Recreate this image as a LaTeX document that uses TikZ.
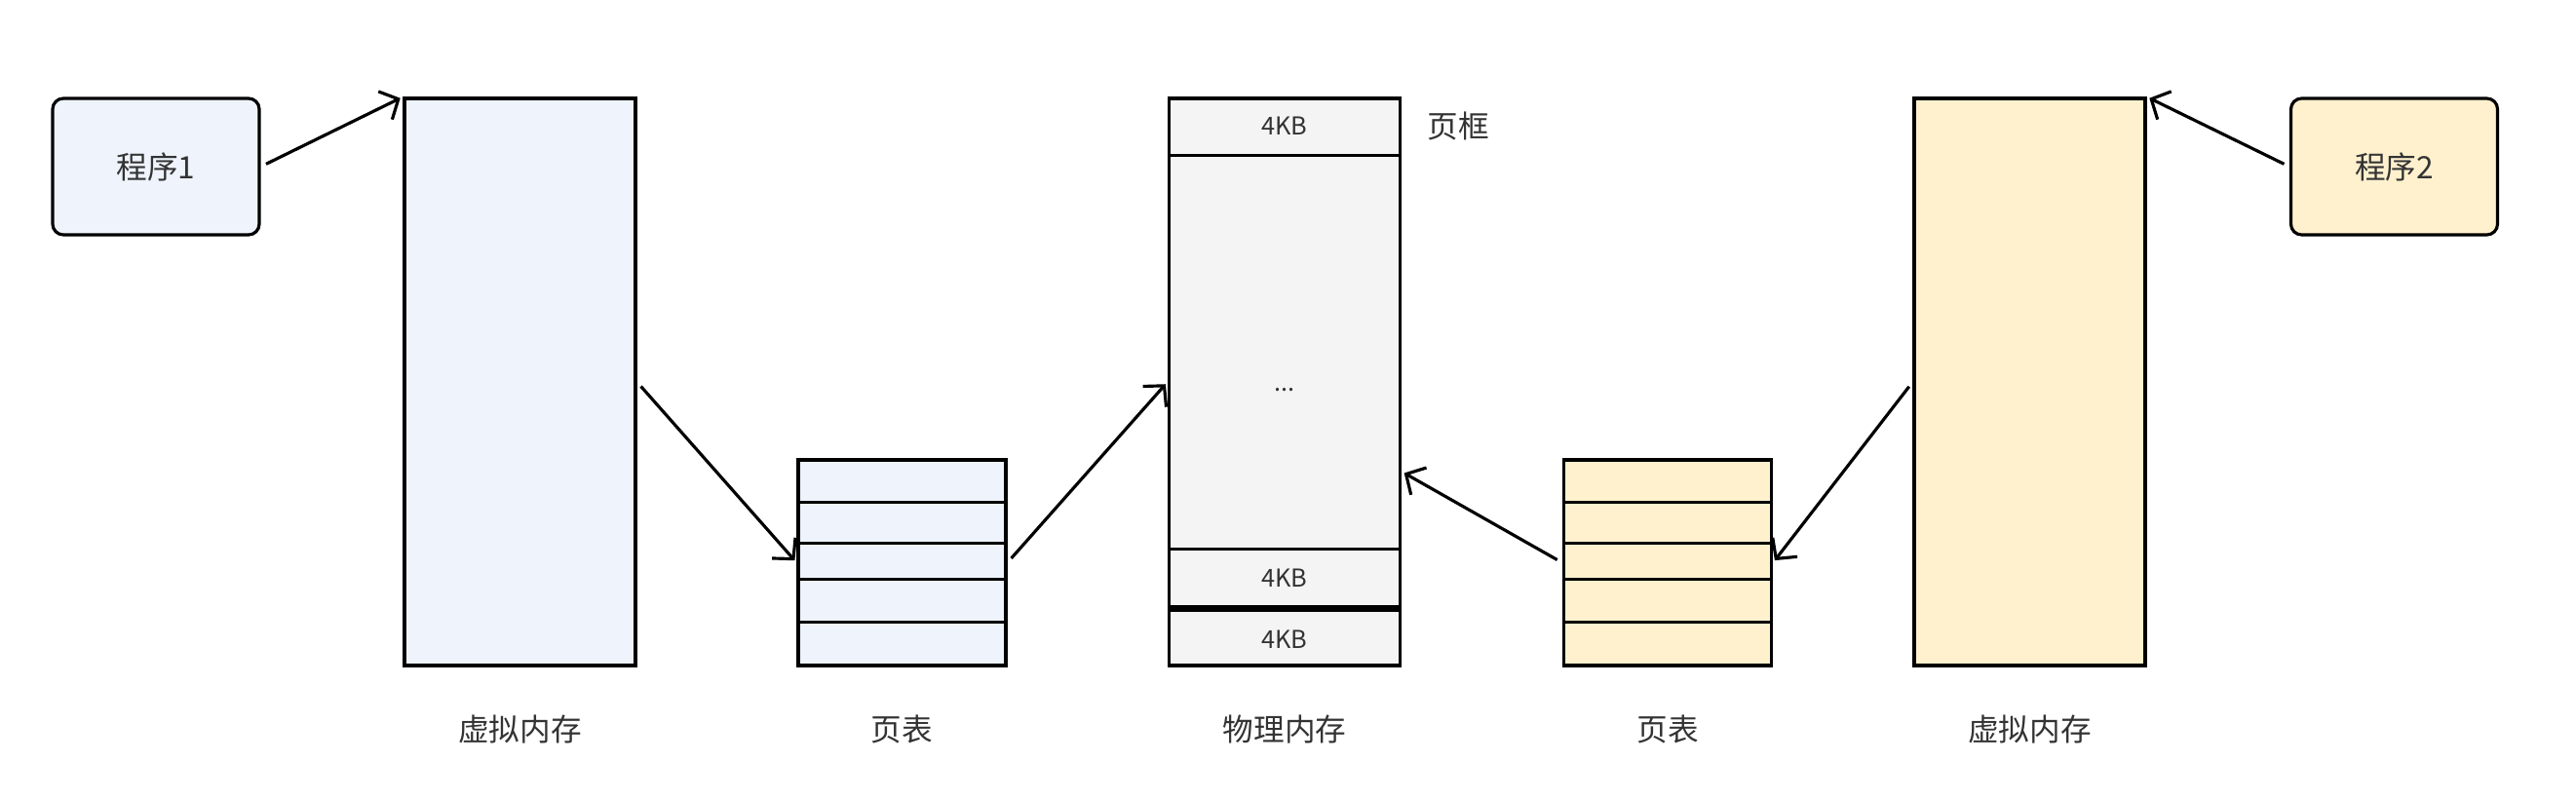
\documentclass[tikz,border=0pt]{standalone}
\usepackage{fontspec}
\setmainfont{Noto Sans CJK SC}
\usetikzlibrary{arrows.meta}

\definecolor{memblue}{HTML}{EEF3FC}
\definecolor{memyellow}{HTML}{FFF1CE}
\definecolor{memgray}{HTML}{F4F4F4}
\definecolor{txtgray}{HTML}{333333}

\begin{document}
\begin{tikzpicture}[
    every node/.style={text=txtgray, font=\fontsize{9}{11}\selectfont},
    prog/.style={draw=black, line width=0.9pt, rounded corners=0.11cm, minimum width=2.12cm, minimum height=1.40cm, inner sep=0pt},
    mem/.style={draw=black, line width=0.9pt, minimum width=2.37cm, minimum height=5.82cm, inner sep=0pt},
    ptab/.style={draw=black, line width=0.9pt, minimum width=2.13cm, minimum height=2.11cm, inner sep=0pt},
    arr/.style={-{Straight Barb[length=1.5mm,width=3.2mm]}, line width=0.9pt, shorten <=0.06cm, shorten >=0.03cm},
    small/.style={font=\fontsize{7.2}{9}\selectfont}
]
    \useasboundingbox (0,0) rectangle (26.43,8.2);

    % --- 左侧: 程序1 ---
    \node[prog, fill=memblue] (prog1) at (1.60,6.49) {程序1};
    \node[mem, fill=memblue] (vm1) at (5.335,4.28) {};
    \node[ptab, fill=memblue] (pt1) at (9.255,2.425) {};
    \foreach \d in {0.46,0.90,1.27,1.69}
        \draw[line width=0.9pt] ([yshift=\d cm]pt1.south west) -- ([yshift=\d cm]pt1.south east);

    % --- 中间: 物理内存 ---
    \node[mem, fill=memgray] (phys) at (13.18,4.28) {};
    \draw[line width=0.9pt] ([yshift=-0.60cm]phys.north west) -- ([yshift=-0.60cm]phys.north east);
    \draw[line width=0.9pt] ([yshift=1.21cm]phys.south west) -- ([yshift=1.21cm]phys.south east);
    \draw[line width=1.8pt] ([yshift=0.60cm]phys.south west) -- ([yshift=0.60cm]phys.south east);
    \node[small] (frame1) at ([yshift=-0.30cm]phys.north) {4KB};
    \node[small] (dots) at (13.18,4.2) {...};
    \node[small] (frame2) at ([yshift=0.91cm]phys.south) {4KB};
    \node[small] (frame3) at ([yshift=0.285cm]phys.south) {4KB};
    \node[anchor=west] (framelab) at ([xshift=0.14cm,yshift=-0.30cm]phys.north east) {页框};

    % --- 右侧: 程序2 ---
    \node[ptab, fill=memyellow] (pt2) at (17.11,2.425) {};
    \foreach \d in {0.46,0.90,1.27,1.69}
        \draw[line width=0.9pt] ([yshift=\d cm]pt2.south west) -- ([yshift=\d cm]pt2.south east);
    \node[mem, fill=memyellow] (vm2) at (20.825,4.28) {};
    \node[prog, fill=memyellow] (prog2) at (24.565,6.49) {程序2};

    % 下方标题
    \node (vm1lab) at ([yshift=-0.64cm]vm1.south) {虚拟内存};
    \node (pt1lab) at ([yshift=-0.64cm]pt1.south) {页表};
    \node (physlab) at ([yshift=-0.64cm]phys.south) {物理内存};
    \node (pt2lab) at ([yshift=-0.64cm]pt2.south) {页表};
    \node (vm2lab) at ([yshift=-0.64cm]vm2.south) {虚拟内存};

    % 映射箭头
    \draw[arr] (prog1.east) -- (vm1.north west);
    \draw[arr] (vm1.east) -- (pt1.west);
    \draw[arr] (pt1.east) -- (phys.west);
    \draw[arr] (pt2.west) -- ([yshift=-0.92cm]phys.east);
    \draw[arr] (vm2.west) -- (pt2.east);
    \draw[arr] (prog2.west) -- (vm2.north east);

\end{tikzpicture}
\end{document}
